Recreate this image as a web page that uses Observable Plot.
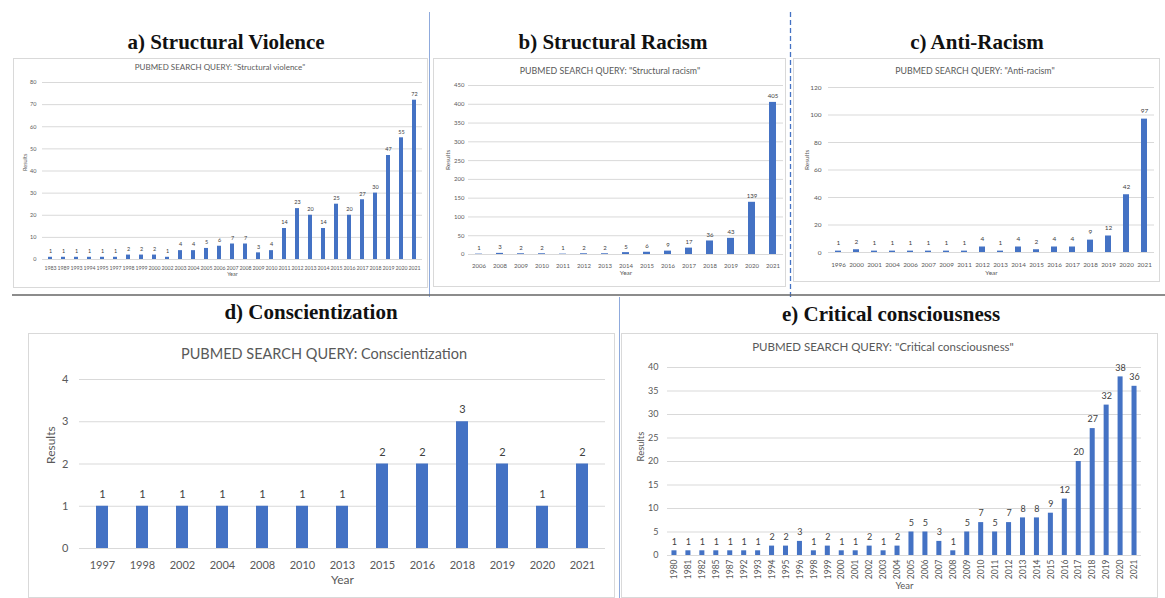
<!DOCTYPE html>
<html>
<head>
<meta charset="utf-8">
<script src="https://cdn.jsdelivr.net/npm/d3@7"></script>
<script src="https://cdn.jsdelivr.net/npm/@observablehq/plot@0.6"></script>
<style>
  html, body { margin: 0; padding: 0; background: #fff; }
  #page { position: relative; width: 1165px; height: 598px; overflow: hidden; background: #fff; }
  .abs { position: absolute; }
  .panelTitle { font-family: "Liberation Serif", "Times New Roman", serif; font-weight: bold; color: #111; white-space: nowrap; text-align: center; }
  .chartTitle { font-family: Lato, "Open Sans", sans-serif; color: #595959; white-space: nowrap; text-align: center; }
  .box { border: 1px solid #d9d9d9; box-sizing: border-box; background: #fff; }
</style>
</head>
<body>
<div id="page"></div>
<script>
// ---------- data ----------
const yearsA = [1983, 1989, 1993, 1994, 1995, 1997, 1998, 1999, 2000, 2002, 2003, 2004, 2005, 2006, 2007, 2008, 2009, 2010, 2011, 2012, 2013, 2014, 2015, 2016, 2017, 2018, 2019, 2020, 2021];
const valuesA = [1, 1, 1, 1, 1, 1, 2, 2, 2, 1, 4, 4, 5, 6, 7, 7, 3, 4, 14, 23, 20, 14, 25, 20, 27, 30, 47, 55, 72];
const ticksA = [0, 10, 20, 30, 40, 50, 60, 70, 80];

const yearsB = [2006, 2008, 2009, 2010, 2011, 2012, 2013, 2014, 2015, 2016, 2017, 2018, 2019, 2020, 2021];
const valuesB = [1, 3, 2, 2, 1, 2, 2, 5, 6, 9, 17, 36, 43, 139, 405];
const ticksB = [0, 50, 100, 150, 200, 250, 300, 350, 400, 450];

const yearsC = [1996, 2000, 2001, 2004, 2006, 2007, 2009, 2011, 2012, 2013, 2014, 2015, 2016, 2017, 2018, 2019, 2020, 2021];
const valuesC = [1, 2, 1, 1, 1, 1, 1, 1, 4, 1, 4, 2, 4, 4, 9, 12, 42, 97];
const ticksC = [0, 20, 40, 60, 80, 100, 120];

const yearsD = [1997, 1998, 2002, 2004, 2008, 2010, 2013, 2015, 2016, 2018, 2019, 2020, 2021];
const valuesD = [1, 1, 1, 1, 1, 1, 1, 2, 2, 3, 2, 1, 2];
const ticksD = [0, 1, 2, 3, 4];

const yearsE = [1980, 1981, 1982, 1985, 1987, 1992, 1993, 1994, 1995, 1996, 1998, 1999, 2000, 2001, 2002, 2003, 2004, 2005, 2006, 2007, 2008, 2009, 2010, 2011, 2012, 2013, 2014, 2015, 2016, 2017, 2018, 2019, 2020, 2021];
const valuesE = [1, 1, 1, 1, 1, 1, 1, 2, 2, 3, 1, 2, 1, 1, 2, 1, 2, 5, 5, 3, 1, 5, 7, 5, 7, 8, 8, 9, 12, 20, 27, 32, 38, 36];
const ticksE = [0, 5, 10, 15, 20, 25, 30, 35, 40];

const panelTitles = ["a) Structural Violence", "b) Structural Racism", "c) Anti-Racism", "d) Conscientization", "e) Critical consciousness"];
const chartTitles = ['PUBMED SEARCH QUERY: "Structural violence"', 'PUBMED SEARCH QUERY: "Structural racism"', 'PUBMED SEARCH QUERY: "Anti-racism"', 'PUBMED SEARCH QUERY: Conscientization', 'PUBMED SEARCH QUERY: "Critical consciousness"'];
const xLabel = "Year";
const yLabel = "Results";

// ---------- layout helpers ----------
const page = document.getElementById("page");
function addDiv(cls, css, text) {
  const d = document.createElement("div");
  d.className = "abs " + (cls || "");
  Object.assign(d.style, css);
  if (text != null) d.textContent = text;
  page.appendChild(d);
  return d;
}
function centeredText(cls, text, cx, cy, size) {
  return addDiv(cls, {left: (cx - 300) + "px", width: "600px", top: (cy - size * 0.6) + "px", height: (size * 1.2) + "px", lineHeight: (size * 1.2) + "px", fontSize: size + "px"}, text);
}
function line(x1, y1, x2, y2, color, w, dash) {
  const svgNS = "http://www.w3.org/2000/svg";
  const s = document.createElementNS(svgNS, "svg");
  s.setAttribute("width", 1165); s.setAttribute("height", 598);
  s.style.position = "absolute"; s.style.left = "0"; s.style.top = "0"; s.style.pointerEvents = "none";
  const l = document.createElementNS(svgNS, "line");
  l.setAttribute("x1", x1); l.setAttribute("y1", y1); l.setAttribute("x2", x2); l.setAttribute("y2", y2);
  l.setAttribute("stroke", color); l.setAttribute("stroke-width", w);
  if (dash) l.setAttribute("stroke-dasharray", dash);
  s.appendChild(l);
  page.appendChild(s);
}

function makeChart(years, values, ticks, o) {
  const data = years.map((y, i) => ({year: String(y), value: values[i]}));
  return Plot.plot({
    width: o.width, height: o.height,
    marginTop: o.mt, marginRight: o.mr, marginBottom: o.mb, marginLeft: o.ml,
    style: {fontFamily: "Lato, 'Open Sans', sans-serif", color: "#595959", background: "transparent", overflow: "visible"},
    x: {type: "band", domain: years.map(String), paddingInner: o.pad, paddingOuter: o.pad / 2, axis: null},
    y: {domain: [ticks[0], ticks[ticks.length - 1]], axis: null},
    marks: [
      Plot.gridY(ticks, {stroke: "#d9d9d9", strokeOpacity: 1, strokeWidth: 1}),
      Plot.barY(data, {x: "year", y: "value", fill: "#4472C4"}),
      Plot.text(data, {x: "year", y: "value", text: d => String(d.value), dy: -o.valDy, fill: "#404040", fontSize: o.valFont}),
      Plot.axisY(ticks, {tickSize: 0, tickPadding: o.yPad, fontSize: o.yFont, label: null}),
      Plot.axisX({tickSize: 0, tickPadding: o.xPad, fontSize: o.xFont, label: null, tickRotate: o.rotate || 0}),
      Plot.text([xLabel], {frameAnchor: "bottom", dy: o.yearDy, text: d => d, fontSize: o.labFont, fill: "#595959"}),
      Plot.text([yLabel], {frameAnchor: "left", dx: o.resDx, rotate: -90, text: d => d, fontSize: o.labFont, fill: "#595959"})
    ]
  });
}

function panel(box, titleC, titleSize, chartT, chartTC, chartTSize, years, values, ticks, o) {
  addDiv("box", {left: box.x + "px", top: box.y + "px", width: box.w + "px", height: box.h + "px"});
  centeredText("panelTitle", titleC.text, titleC.x, titleC.y, titleSize);
  centeredText("chartTitle", chartT, chartTC.x, chartTC.y, chartTSize);
  const chart = makeChart(years, values, ticks, Object.assign({width: box.w, height: box.h}, o));
  const holder = addDiv("", {left: box.x + "px", top: box.y + "px", width: box.w + "px", height: box.h + "px"});
  holder.appendChild(chart);
}

// ---------- panels ----------
panel({x: 13, y: 58, w: 415, h: 230}, {text: panelTitles[0], x: 226, y: 43}, 21,
  chartTitles[0], {x: 220, y: 68}, 8, yearsA, valuesA, ticksA,
  {mt: 24, mr: 6, mb: 29, ml: 29, pad: 0.7, valDy: 6, valFont: 5.5, yPad: 6, yFont: 5.5, xPad: 7, xFont: 5.2, yearDy: 16, resDx: -17, labFont: 5.5});

panel({x: 433, y: 58, w: 353, h: 229}, {text: panelTitles[1], x: 613, y: 43}, 21,
  chartTitles[1], {x: 610, y: 71}, 8.8, yearsB, valuesB, ticksB,
  {mt: 27, mr: 3, mb: 33, ml: 35, pad: 0.66, valDy: 6, valFont: 6, yPad: 4, yFont: 6, xPad: 9, xFont: 6, yearDy: 20, resDx: -21, labFont: 6.5});

panel({x: 793, y: 58, w: 367, h: 224}, {text: panelTitles[2], x: 977, y: 43}, 21,
  chartTitles[2], {x: 975, y: 71}, 8.8, yearsC, valuesC, ticksC,
  {mt: 29, mr: 6, mb: 30, ml: 35, pad: 0.66, valDy: 8, valFont: 6.5, yPad: 7, yFont: 6.5, xPad: 10, xFont: 6.3, yearDy: 22, resDx: -22, labFont: 6.5});

panel({x: 28, y: 333, w: 587, h: 265}, {text: panelTitles[3], x: 311, y: 313}, 21,
  chartTitles[3], {x: 324, y: 354}, 14.5, yearsD, valuesD, ticksD,
  {mt: 46, mr: 10, mb: 50, ml: 51, pad: 0.7, valDy: 12, valFont: 11, yPad: 11, yFont: 11, xPad: 13, xFont: 11, yearDy: 35, resDx: -28, labFont: 12});

panel({x: 621, y: 333, w: 537, h: 265}, {text: panelTitles[4], x: 891, y: 315}, 21,
  chartTitles[4], {x: 883, y: 347}, 11.5, yearsE, valuesE, ticksE,
  {mt: 34, mr: 17, mb: 43, ml: 46, pad: 0.64, valDy: 9, valFont: 9, yPad: 9, yFont: 9, xPad: 4, xFont: 8.5, rotate: -90, yearDy: 33, resDx: -27, labFont: 9.5});

// ---------- dividers ----------
line(429.5, 12, 429.5, 297, "#8faadc", 1);
line(790.5, 12, 790.5, 297, "#4472C4", 1.3, "5,3");
line(12, 295, 1165, 295, "#666666", 1.5);
line(619.5, 297, 619.5, 598, "#8faadc", 1);
</script>
</body>
</html>
